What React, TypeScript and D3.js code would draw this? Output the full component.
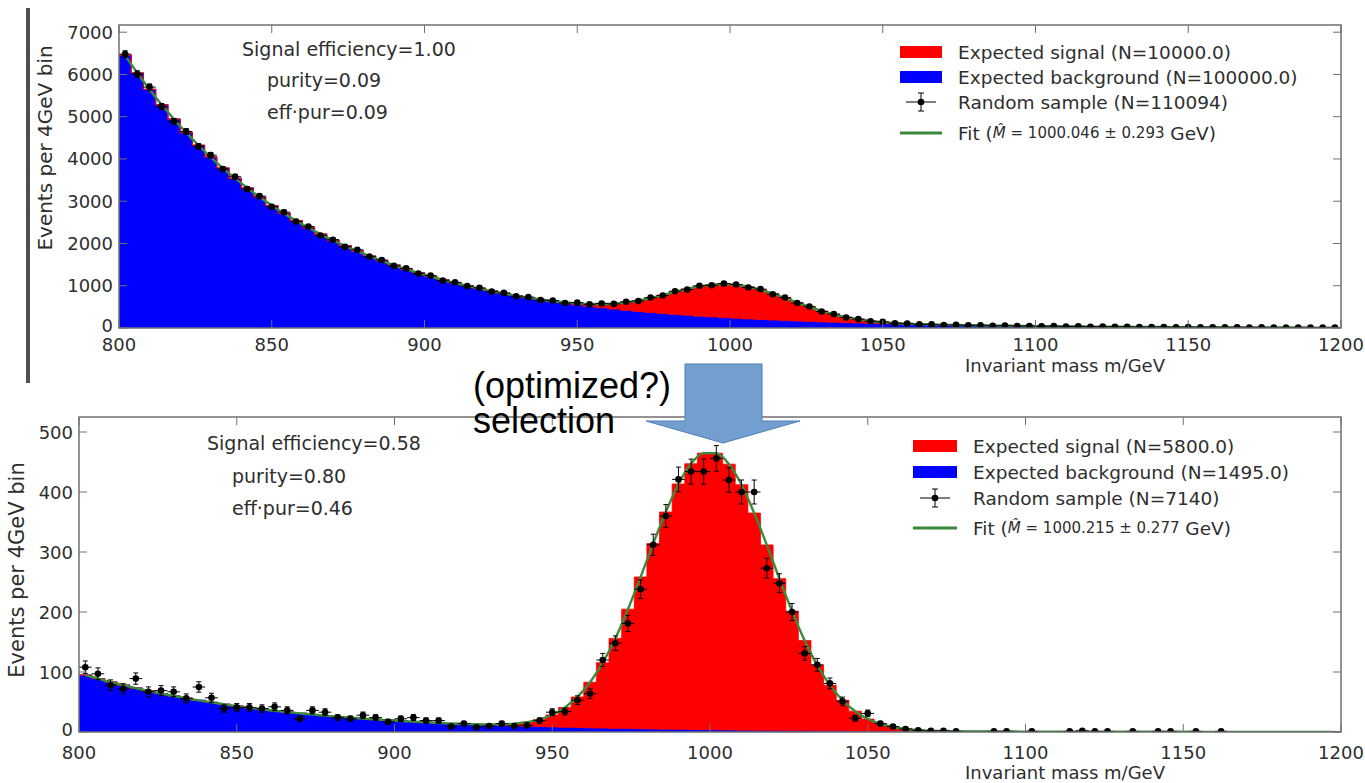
import React from "react";
import * as d3 from "d3";

// Histogram binning: 100 bins of 4 GeV between 800 and 1200 GeV
const MASS_MIN = 800;
const MASS_MAX = 1200;
const BIN_WIDTH = 4;

const massTicks = [800, 850, 900, 950, 1000, 1050, 1100, 1150, 1200];
const topCountTicks = [0, 1000, 2000, 3000, 4000, 5000, 6000, 7000];
const bottomCountTicks = [0, 100, 200, 300, 400, 500];

// ---- Before selection ----
const topBackground = [
  6450, 6034, 5645, 5281, 4941, 4622, 4324, 4045, 3784, 3540,
  3312, 3098, 2899, 2712, 2537, 2373, 2220, 2077, 1943, 1818,
  1701, 1591, 1488, 1392, 1303, 1219, 1140, 1067, 998, 933,
  873, 817, 764, 715, 669, 626, 585, 548, 512, 479,
  448, 419, 392, 367, 343, 321, 301, 281, 263, 246,
  230, 215, 201, 188, 176, 165, 154, 144, 135, 126,
  118, 110, 103, 97, 90, 85, 79, 74, 69, 65,
  61, 57, 53, 50, 46, 43, 41, 38, 36, 33,
  31, 29, 27, 25, 24, 22, 21, 19, 18, 17,
  16, 15, 14, 13, 12, 11, 11, 10, 9, 9,
];
const topSignal = [
  0, 0, 0, 0, 0, 0, 0, 0, 0, 0,
  0, 0, 0, 0, 0, 0, 0, 0, 0, 0,
  0, 0, 0, 0, 0, 0, 0, 0, 0, 0,
  0.4, 0.9, 1.7, 3.4, 6.5, 12, 21, 35, 57, 88,
  131, 188, 259, 343, 436, 532, 625, 704, 763, 794,
  794, 763, 704, 625, 532, 436, 343, 259, 188, 131,
  88, 57, 35, 21, 12, 6.5, 3.4, 1.7, 0.9, 0.4,
  0, 0, 0, 0, 0, 0, 0, 0, 0, 0,
  0, 0, 0, 0, 0, 0, 0, 0, 0, 0,
  0, 0, 0, 0, 0, 0, 0, 0, 0, 0,
];
const topSample = [
  6480, 6010, 5700, 5240, 4890, 4650, 4300, 4090, 3760, 3580,
  3290, 3120, 2870, 2740, 2520, 2400, 2190, 2090, 1920, 1850,
  1690, 1610, 1470, 1410, 1290, 1240, 1120, 1080, 990, 950,
  860, 830, 750, 730, 660, 650, 590, 600, 560, 580,
  570, 620, 640, 720, 770, 870, 910, 1000, 1010, 1050,
  1030, 960, 920, 800, 720, 590, 510, 390, 330, 250,
  210, 160, 145, 112, 105, 88, 85, 72, 73, 62,
  64, 55, 56, 47, 49, 41, 44, 36, 38, 31,
  33, 27, 30, 24, 22, 25, 19, 21, 16, 18,
  14, 17, 12, 14, 11, 13, 9, 11, 8, 10,
];

// ---- After selection ----
const bottomBackground = [
  95, 89, 83.3, 78, 73.1, 68.4, 64.1, 60, 56.2, 52.6,
  49.3, 46.2, 43.2, 40.5, 37.9, 35.5, 33.3, 31.1, 29.2, 27.3,
  25.6, 24, 22.4, 21, 19.7, 18.4, 17.3, 16.2, 15.1, 14.2,
  13.3, 12.4, 11.6, 10.9, 10.2, 9.6, 9, 8.4, 7.9, 7.4,
  6.9, 6.5, 6, 5.7, 5.3, 5, 4.6, 4.4, 4.1, 3.8,
  3.6, 3.4, 3.1, 2.9, 2.8, 2.6, 2.4, 2.3, 2.1, 2,
  1.9, 1.7, 1.6, 1.5, 1.4, 1.3, 1.2, 1.2, 1.1, 1,
  0.9, 0.9, 0.8, 0.8, 0.7, 0.7, 0.6, 0.6, 0.5, 0.5,
  0.5, 0.4, 0.4, 0.4, 0.3, 0.3, 0.3, 0.3, 0.3, 0.2,
  0.2, 0.2, 0.2, 0.2, 0.2, 0.2, 0.1, 0.1, 0.1, 0.1,
];
const bottomSignal = [
  0, 0, 0, 0, 0, 0, 0, 0, 0, 0,
  0, 0, 0, 0, 0, 0, 0, 0, 0, 0,
  0, 0, 0, 0, 0, 0, 0, 0, 0, 0,
  0.2, 0.5, 1, 2, 3.8, 6.9, 12, 20, 33, 51,
  76, 109, 150, 199, 253, 309, 362, 409, 443, 461,
  461, 443, 409, 362, 309, 253, 199, 150, 109, 76,
  51, 33, 20, 12, 6.9, 3.8, 2, 1, 0.5, 0.2,
  0, 0, 0, 0, 0, 0, 0, 0, 0, 0,
  0, 0, 0, 0, 0, 0, 0, 0, 0, 0,
  0, 0, 0, 0, 0, 0, 0, 0, 0, 0,
];
// null marks an empty bin (no point drawn)
const bottomSample: (number | null)[] = [
  108, 97, 78, 72, 89, 67, 69, 67, 56, 75,
  57, 39, 41, 41, 39, 42, 36, 22, 36, 33,
  24, 22, 28, 24, 17, 22, 24, 19, 19, 9,
  14, 8, 10, 14, 10, 11, 19, 33, 34, 53,
  64, 120, 148, 181, 238, 312, 360, 421, 434, 434,
  456, 420, 400, 400, 273, 248, 200, 131, 112, 81,
  51, 23, 31, 14, 9, 5, 3, 2, 2, 1,
  null, null, 1, 1, null, 1, null, null, 1, 2,
  1, 1, null, 1, null, 1, 1, null, 1, null,
  1, null, null, null, null, null, null, null, null, null,
];

const topInfo = ["Signal efficiency=1.00", "purity=0.09", "eff\u00b7pur=0.09"];
const bottomInfo = ["Signal efficiency=0.58", "purity=0.80", "eff\u00b7pur=0.46"];

const topLegend = [
  "Expected signal (N=10000.0)",
  "Expected background (N=100000.0)",
  "Random sample (N=110094)",
];
const topFit = ["1000.046", "0.293"];
const bottomLegend = [
  "Expected signal (N=5800.0)",
  "Expected background (N=1495.0)",
  "Random sample (N=7140)",
];
const bottomFit = ["1000.215", "0.277"];

const yLabel = "Events per 4GeV bin";
const xLabel = "Invariant mass m/GeV";

const FONT = "'DejaVu Sans', Verdana, sans-serif";
const TXT = "#2e2e2e";
const FRAME = "#707070";
const BLUE = "#0000ff";
const RED = "#ff0000";
const GREEN = "#3b8a3b";

type Layout = {
  id: string;
  left: number;
  right: number;
  top: number;
  bottom: number;
  yMax: number;
  tickLabelDy: number;
  xLabelY: number;
  yLabelX: number;
  yLabelY: number;
  yLabelSize: number;
  infoX: number[];
  infoY: number[];
  legendPatchX: number;
  legendPatchW: number;
  legendTextX: number;
  legendRows: number[];
};

type PanelProps = {
  layout: Layout;
  background: number[];
  signal: number[];
  sample: (number | null)[];
  countTicks: number[];
  info: string[];
  legend: string[];
  fit: string[];
};

function Panel({ layout: L, background, signal, sample, countTicks, info, legend, fit }: PanelProps) {
  const x = d3.scaleLinear().domain([MASS_MIN, MASS_MAX]).range([L.left, L.right]);
  const y = d3.scaleLinear().domain([0, L.yMax]).range([L.bottom, L.top]);

  type Bin = { lo: number; bg: number; sig: number };
  const bins: Bin[] = background.map((bg, i) => ({ lo: MASS_MIN + i * BIN_WIDTH, bg, sig: signal[i] }));
  const steps: Bin[] = [...bins, { ...bins[bins.length - 1], lo: MASS_MAX }];

  const bgArea = d3
    .area<Bin>()
    .x((d) => x(d.lo))
    .y0(y(0))
    .y1((d) => y(d.bg))
    .curve(d3.curveStepAfter);
  const sigArea = d3
    .area<Bin>()
    .x((d) => x(d.lo))
    .y0((d) => y(d.bg))
    .y1((d) => y(d.bg + d.sig))
    .curve(d3.curveStepAfter);
  const fitLine = d3
    .line<Bin>()
    .x((d) => x(d.lo + BIN_WIDTH / 2))
    .y((d) => y(d.bg + d.sig))
    .curve(d3.curveMonotoneX);

  const clipId = `clip-${L.id}`;
  const tick = 8;
  const rowY = L.legendRows;
  const px = L.legendPatchX;
  const pw = L.legendPatchW;
  const iconX = px + pw / 2;

  return (
    <g>
      <defs>
        <clipPath id={clipId}>
          <rect x={L.left} y={L.top} width={L.right - L.left} height={L.bottom - L.top} />
        </clipPath>
      </defs>
      <rect x={L.left} y={L.top} width={L.right - L.left} height={L.bottom - L.top} fill="#fff" />
      <g clipPath={`url(#${clipId})`}>
        <path d={bgArea(steps) ?? ""} fill={BLUE} stroke={BLUE} strokeWidth={1.2} />
        <path d={sigArea(steps) ?? ""} fill={RED} stroke={RED} strokeWidth={0.8} />
        <path d={fitLine(bins) ?? ""} fill="none" stroke={GREEN} strokeWidth={2.4} />
        {sample.map((v, i) => {
          if (v == null) return null;
          const c = MASS_MIN + i * BIN_WIDTH + BIN_WIDTH / 2;
          const e = Math.sqrt(v);
          const cx = x(c);
          const cy = y(v);
          const yt = y(v + e);
          const yb = y(Math.max(0, v - e));
          return (
            <g key={i} stroke="#000" strokeWidth={1}>
              <line x1={x(c - BIN_WIDTH / 2)} x2={x(c + BIN_WIDTH / 2)} y1={cy} y2={cy} />
              <line x1={cx} x2={cx} y1={yt} y2={yb} />
              <line x1={cx - 2.5} x2={cx + 2.5} y1={yt} y2={yt} />
              <line x1={cx - 2.5} x2={cx + 2.5} y1={yb} y2={yb} />
              <circle cx={cx} cy={cy} r={3.3} fill="#000" stroke="none" />
            </g>
          );
        })}
      </g>

      {/* frame and inward ticks */}
      <rect x={L.left} y={L.top} width={L.right - L.left} height={L.bottom - L.top} fill="none" stroke={FRAME} strokeWidth={1.5} />
      {massTicks.map((t) => (
        <g key={`xt${t}`} stroke={FRAME} strokeWidth={1}>
          <line x1={x(t)} x2={x(t)} y1={L.bottom} y2={L.bottom - tick} />
          <line x1={x(t)} x2={x(t)} y1={L.top} y2={L.top + tick} />
        </g>
      ))}
      {countTicks.map((t) => (
        <g key={`yt${t}`} stroke={FRAME} strokeWidth={1}>
          <line x1={L.left} x2={L.left + tick} y1={y(t)} y2={y(t)} />
          <line x1={L.right} x2={L.right - tick} y1={y(t)} y2={y(t)} />
        </g>
      ))}

      {/* tick labels */}
      <g fontFamily={FONT} fontSize={18} fill={TXT}>
        {massTicks.map((t) => (
          <text key={`xl${t}`} x={x(t)} y={L.bottom + L.tickLabelDy} textAnchor="middle" dominantBaseline="central">
            {t}
          </text>
        ))}
        {countTicks.map((t) => (
          <text key={`yl${t}`} x={L.left - 6} y={y(t) - (t === 0 ? 3 : 0)} textAnchor="end" dominantBaseline="central">
            {t}
          </text>
        ))}
      </g>

      {/* axis titles */}
      <text x={1065} y={L.xLabelY} fontFamily={FONT} fontSize={18} fill={TXT} textAnchor="middle" dominantBaseline="central">
        {xLabel}
      </text>
      <text
        transform={`translate(${L.yLabelX},${L.yLabelY}) rotate(-90)`}
        fontFamily={FONT}
        fontSize={L.yLabelSize}
        fill={TXT}
        textAnchor="middle"
        dominantBaseline="central"
      >
        {yLabel}
      </text>

      {/* efficiency / purity summary */}
      <g fontFamily={FONT} fontSize={19} fill={TXT}>
        {info.map((s, i) => (
          <text key={`info${i}`} x={L.infoX[i]} y={L.infoY[i]} dominantBaseline="central">
            {s}
          </text>
        ))}
      </g>

      {/* legend */}
      <g fontFamily={FONT} fontSize={18.5} fill={TXT}>
        <rect x={px} y={rowY[0] - 6} width={pw} height={12} fill={RED} />
        <rect x={px} y={rowY[1] - 6} width={pw} height={12} fill={BLUE} />
        <g stroke="#000" strokeWidth={1}>
          <line x1={iconX - 15} x2={iconX + 15} y1={rowY[2]} y2={rowY[2]} />
          <line x1={iconX} x2={iconX} y1={rowY[2] - 9} y2={rowY[2] + 9} />
          <line x1={iconX - 3} x2={iconX + 3} y1={rowY[2] - 9} y2={rowY[2] - 9} />
          <line x1={iconX - 3} x2={iconX + 3} y1={rowY[2] + 9} y2={rowY[2] + 9} />
          <circle cx={iconX} cy={rowY[2]} r={3.3} fill="#000" stroke="none" />
        </g>
        <line x1={px} x2={px + pw} y1={rowY[3]} y2={rowY[3]} stroke={GREEN} strokeWidth={3} />
        {legend.map((s, i) => (
          <text key={`lg${i}`} x={L.legendTextX} y={rowY[i]} dominantBaseline="central">
            {s}
          </text>
        ))}
        <text x={L.legendTextX} y={rowY[3]} dominantBaseline="central">
          Fit (
          <tspan fontSize={15}>
            <tspan fontStyle="italic">M&#x0302;</tspan>
            {` = ${fit[0]} \u00b1 ${fit[1]}`}
          </tspan>
          {" GeV)"}
        </text>
      </g>
    </g>
  );
}

const topLayout: Layout = {
  id: "before",
  left: 119,
  right: 1341,
  top: 25,
  bottom: 328,
  yMax: 7170,
  tickLabelDy: 16,
  xLabelY: 365,
  yLabelX: 45,
  yLabelY: 148,
  yLabelSize: 20,
  infoX: [242, 267, 267],
  infoY: [49, 80, 112],
  legendPatchX: 900,
  legendPatchW: 42,
  legendTextX: 958,
  legendRows: [52, 77, 102, 133],
};

const bottomLayout: Layout = {
  id: "after",
  left: 79,
  right: 1341,
  top: 417,
  bottom: 732,
  yMax: 525,
  tickLabelDy: 20,
  xLabelY: 772,
  yLabelX: 17,
  yLabelY: 570,
  yLabelSize: 21,
  infoX: [207, 232, 232],
  infoY: [443, 476, 508],
  legendPatchX: 913,
  legendPatchW: 44,
  legendTextX: 973,
  legendRows: [446, 472, 498, 528],
};

export default function App() {
  return (
    <svg
      width={1365}
      height={783}
      viewBox="0 0 1365 783"
      style={{ position: "absolute", left: 0, top: 0, background: "#fff" }}
    >
      <rect x={0} y={0} width={1365} height={783} fill="#fff" />
      <Panel
        layout={topLayout}
        background={topBackground}
        signal={topSignal}
        sample={topSample}
        countTicks={topCountTicks}
        info={topInfo}
        legend={topLegend}
        fit={topFit}
      />
      {/* edge of the upper slide image */}
      <line x1={28} x2={28} y1={8} y2={383} stroke="#505050" strokeWidth={4} />
      <Panel
        layout={bottomLayout}
        background={bottomBackground}
        signal={bottomSignal}
        sample={bottomSample}
        countTicks={bottomCountTicks}
        info={bottomInfo}
        legend={bottomLegend}
        fit={bottomFit}
      />

      {/* selection arrow and caption */}
      <polygon
        points="685,364 762,364 762,421 800,421 723,443 646,421 685,421"
        fill="#729fcf"
        stroke="#4f7fb8"
        strokeWidth={1}
      />
      <g fontFamily="'Liberation Sans', Arial, sans-serif" fontSize={36} fill="#000">
        <text x={473} y={398}>(optimized?)</text>
        <text x={473} y={433}>selection</text>
      </g>
    </svg>
  );
}
